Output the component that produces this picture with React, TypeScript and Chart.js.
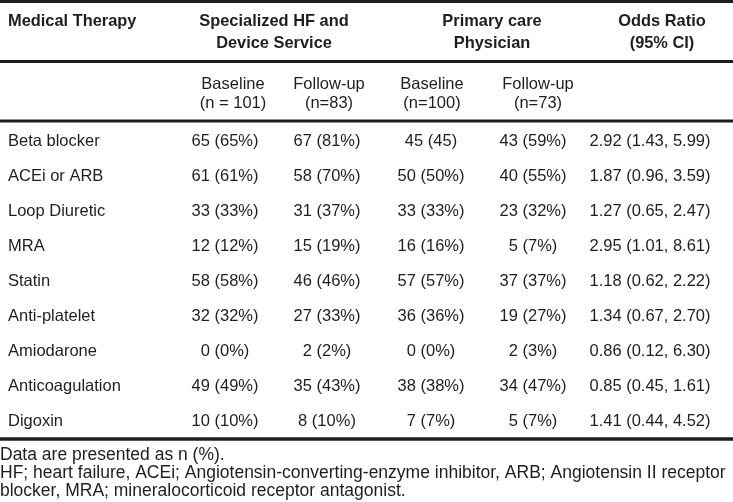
import { useEffect, useRef } from "react";
import { Chart, registerables } from "chart.js";

Chart.register(...registerables);

// ---- table content ----
const therapies = [
  "Beta blocker",
  "ACEi or ARB",
  "Loop Diuretic",
  "MRA",
  "Statin",
  "Anti-platelet",
  "Amiodarone",
  "Anticoagulation",
  "Digoxin",
];
const hfBaseline = ["65 (65%)", "61 (61%)", "33 (33%)", "12 (12%)", "58 (58%)", "32 (32%)", "0 (0%)", "49 (49%)", "10 (10%)"];
const hfFollowUp = ["67 (81%)", "58 (70%)", "31 (37%)", "15 (19%)", "46 (46%)", "27 (33%)", "2 (2%)", "35 (43%)", "8 (10%)"];
const pcpBaseline = ["45 (45)", "50 (50%)", "33 (33%)", "16 (16%)", "57 (57%)", "36 (36%)", "0 (0%)", "38 (38%)", "7 (7%)"];
const pcpFollowUp = ["43 (59%)", "40 (55%)", "23 (32%)", "5 (7%)", "37 (37%)", "19 (27%)", "2 (3%)", "34 (47%)", "5 (7%)"];
const oddsRatio = [
  "2.92 (1.43, 5.99)",
  "1.87 (0.96, 3.59)",
  "1.27 (0.65, 2.47)",
  "2.95 (1.01, 8.61)",
  "1.18 (0.62, 2.22)",
  "1.34 (0.67, 2.70)",
  "0.86 (0.12, 6.30)",
  "0.85 (0.45, 1.61)",
  "1.41 (0.44, 4.52)",
];
const groupHeaders = [
  ["Medical Therapy"],
  ["Specialized HF and", "Device Service"],
  ["Primary care", "Physician"],
  ["Odds Ratio", "(95% CI)"],
];
const subHeaders = [
  ["Baseline", "(n = 101)"],
  ["Follow-up", "(n=83)"],
  ["Baseline", "(n=100)"],
  ["Follow-up", "(n=73)"],
];
const footnotes = [
  "Data are presented as n (%).",
  "HF; heart failure, ACEi; Angiotensin-converting-enzyme inhibitor, ARB; Angiotensin II receptor",
  "blocker, MRA; mineralocorticoid receptor antagonist.",
];

// ---- layout (x in canvas units, y in row units: row i of body = i) ----
const W = 733;
const H = 502;
const ROW_TOP_PX = 141;
const ROW_PITCH = 35;
const yMin = -ROW_TOP_PX / ROW_PITCH;
const yMax = yMin + H / ROW_PITCH;
const toRow = (px: number) => (px - ROW_TOP_PX) / ROW_PITCH;

const firstColX = 8;
const dataColX = [225, 327, 431, 533, 650];
const subHeadX = [233, 329, 432, 538];
const groupHeadX = [firstColX, 274, 492, 662];
const groupHeadRows = [toRow(21.5), toRow(43)];
const subHeadRows = [toRow(84), toRow(103)];
const footRows = [toRow(455), toRow(473), toRow(491)];
const ruleRows = [
  { y: toRow(1.5), w: 3 },
  { y: toRow(61.5), w: 3 },
  { y: toRow(121), w: 3 },
  { y: toRow(439), w: 3.5 },
];

const INK = "#1e1e1e";
const FAMILY = "'Liberation Sans', Arial, Helvetica, sans-serif";
const bodyFont = `16.5px ${FAMILY}`;
const headFont = `bold 16.4px ${FAMILY}`;
const footFont = `17.5px ${FAMILY}`;

type Cell = { x: number; y: number; t: string };

function textSet(cells: Cell[], font: string, align: CanvasTextAlign) {
  return {
    type: "scatter" as const,
    data: cells.map((c) => ({ x: c.x, y: c.y })),
    texts: cells.map((c) => c.t),
    font,
    align,
    pointRadius: 0,
    pointHoverRadius: 0,
    showLine: false,
  };
}

const tablePlugin = {
  id: "tablePlugin",
  beforeDatasetsDraw(chart: any) {
    const { ctx, scales, chartArea } = chart;
    ctx.save();
    ctx.fillStyle = "#ffffff";
    ctx.fillRect(0, 0, chart.width, chart.height);
    ctx.strokeStyle = INK;
    ruleRows.forEach((r) => {
      const y = scales.y.getPixelForValue(r.y);
      ctx.lineWidth = r.w;
      ctx.beginPath();
      ctx.moveTo(chartArea.left, y);
      ctx.lineTo(chartArea.right, y);
      ctx.stroke();
    });
    ctx.restore();
  },
  afterDatasetsDraw(chart: any) {
    const { ctx } = chart;
    ctx.save();
    ctx.fillStyle = INK;
    ctx.textBaseline = "middle";
    chart.data.datasets.forEach((ds: any, di: number) => {
      const meta = chart.getDatasetMeta(di);
      ctx.font = ds.font;
      ctx.textAlign = ds.align;
      meta.data.forEach((el: any, i: number) => {
        ctx.fillText(ds.texts[i], el.x, el.y);
      });
    });
    ctx.restore();
  },
};

export default function App() {
  const ref = useRef<HTMLCanvasElement | null>(null);

  useEffect(() => {
    document.body.style.margin = "0";
    const canvas = ref.current;
    if (!canvas) return;

    const bodyCols = [hfBaseline, hfFollowUp, pcpBaseline, pcpFollowUp, oddsRatio];

    const datasets: any[] = [];
    datasets.push(textSet(therapies.map((t, i) => ({ x: firstColX, y: i, t })), bodyFont, "left"));
    bodyCols.forEach((col, c) => {
      datasets.push(textSet(col.map((t, i) => ({ x: dataColX[c], y: i, t })), bodyFont, "center"));
    });
    // group headers
    const gh: Cell[] = [];
    groupHeaders.forEach((lines, g) => {
      lines.forEach((t, li) => gh.push({ x: groupHeadX[g], y: groupHeadRows[li], t }));
    });
    datasets.push(textSet(gh.slice(0, 1), headFont, "left"));
    datasets.push(textSet(gh.slice(1), headFont, "center"));
    // sub headers
    const sh: Cell[] = [];
    subHeaders.forEach((lines, s) => {
      lines.forEach((t, li) => sh.push({ x: subHeadX[s], y: subHeadRows[li], t }));
    });
    datasets.push(textSet(sh, bodyFont, "center"));
    // footnotes
    datasets.push(textSet(footnotes.map((t, i) => ({ x: 0, y: footRows[i], t })), footFont, "left"));

    const chart = new Chart(canvas, {
      type: "scatter",
      data: { datasets },
      options: {
        animation: false,
        responsive: false,
        maintainAspectRatio: false,
        events: [],
        layout: { padding: 0 },
        plugins: { legend: { display: false }, tooltip: { enabled: false } },
        scales: {
          x: { type: "linear", min: 0, max: W, display: false },
          y: { type: "linear", min: yMin, max: yMax, reverse: true, display: false },
        },
      },
      plugins: [tablePlugin],
    } as any);

    return () => chart.destroy();
  }, []);

  return (
    <div style={{ width: W, height: H }}>
      <canvas ref={ref} width={W} height={H} style={{ display: "block", width: W, height: H }} />
    </div>
  );
}
